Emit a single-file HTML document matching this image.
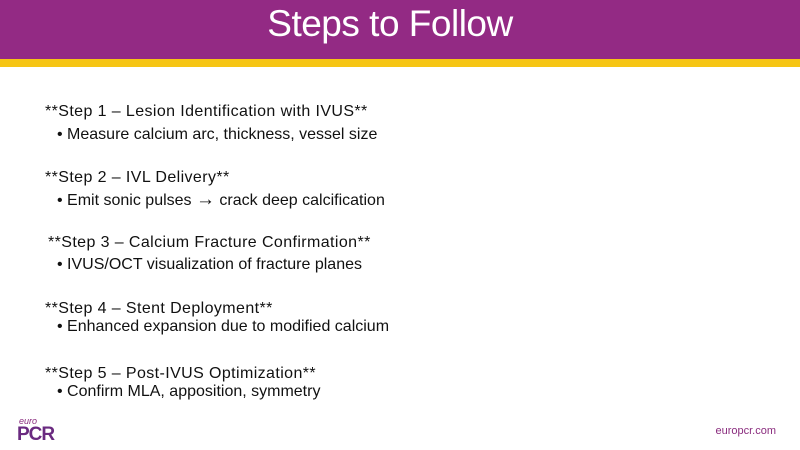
<!DOCTYPE html>
<html><head><style>
body{margin:0;width:800px;height:450px;background:#fff;position:relative;overflow:hidden;font-family:"Liberation Sans",sans-serif}
.hdr{position:absolute;left:0;top:0;width:800px;height:59px;background:#932a84}
.yl{position:absolute;left:0;top:59px;width:800px;height:8px;background:#f6c514}
.t{position:absolute;left:0;width:780px;top:3px;text-align:center;color:#fff;font-size:37px;line-height:42px;letter-spacing:-0.5px}
.l{position:absolute;font-size:16px;color:#111;white-space:nowrap;line-height:18px}
.s{letter-spacing:0.4px}
.foot{position:absolute;right:24px;top:425px;font-size:11px;color:#8a2c7e}
</style></head><body>
<div class="hdr"></div><div class="yl"></div>
<div class="t">Steps to Follow</div>
<div class="l s" style="left:45px;top:103px">**Step 1 – Lesion Identification with IVUS**</div>
<div class="l" style="left:57px;top:126px">• Measure calcium arc, thickness, vessel size</div>
<div class="l s" style="left:45px;top:169px">**Step 2 – IVL Delivery**</div>
<div class="l" style="left:57px;top:191px">• Emit sonic pulses <span style="font-size:19px">→</span> crack deep calcification</div>
<div class="l s" style="left:48px;top:234px">**Step 3 – Calcium Fracture Confirmation**</div>
<div class="l" style="left:57px;top:256px">• IVUS/OCT visualization of fracture planes</div>
<div class="l s" style="left:45px;top:300px">**Step 4 – Stent Deployment**</div>
<div class="l" style="left:57px;top:318px">• Enhanced expansion due to modified calcium</div>
<div class="l s" style="left:45px;top:365px">**Step 5 – Post-IVUS Optimization**</div>
<div class="l" style="left:57px;top:383px">• Confirm MLA, apposition, symmetry</div>
<div style="position:absolute;left:19px;top:416px;font-size:9px;color:#8a2c7e;font-style:italic">euro</div>
<div style="position:absolute;left:17px;top:424px;font-size:19px;font-weight:bold;color:#6a2a80;letter-spacing:-1px">PCR</div>
<div class="foot">europcr.com</div>
</body></html>
